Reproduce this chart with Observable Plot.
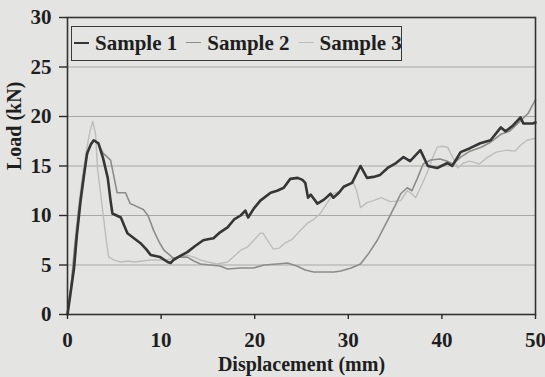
<!DOCTYPE html>
<html>
<head>
<meta charset="utf-8">
<script src="https://cdn.jsdelivr.net/npm/d3@7"></script>
<script src="https://cdn.jsdelivr.net/npm/@observablehq/plot@0.6"></script>
<style>
  html, body { margin: 0; padding: 0; background: #e4e4e2; }
  #wrap { position: relative; width: 545px; height: 377px; background: #e4e4e2; }
  #legend {
    position: absolute; left: 71px; top: 26px; width: 331px; height: 35px;
    box-sizing: border-box; border: 1.5px solid #3a3a3a;
    display: flex; align-items: center; padding-left: 2px;
    font-family: "Liberation Serif", "Times New Roman", serif; font-weight: bold;
    font-size: 21px; color: #1e1e1e; white-space: nowrap;
  }
  #legend .item { display: flex; align-items: center; margin-right: 9px; }
  #legend .mk { display: inline-block; width: 15px; margin-right: 6px; margin-top: -2px; }
</style>
</head>
<body>
<div id="wrap"><div id="legend"></div></div>
<script>
// ---- data ----
const seriesNames = ["Sample 1", "Sample 2", "Sample 3"];
const seriesColors = ["#363636", "#8c8c8c", "#bdbdbd"];
const seriesWidths = [2.6, 1.6, 1.4];

const sample1X = [0,0.3,0.7,1.0,1.4,1.8,2.1,2.5,2.8,3.3,3.8,4.3,4.6,4.8,5.7,6.4,7.1,7.8,8.4,8.9,9.9,10.7,11.0,11.3,12.0,12.8,13.6,14.5,15.0,15.6,16.3,17.1,17.8,18.5,19.0,19.3,19.9,20.6,21.7,22.4,23.1,23.8,24.6,25.1,25.4,25.7,26.0,26.7,27.4,28.1,28.4,29.0,29.5,30.4,31.3,32.0,32.7,33.4,34.2,35.1,35.9,36.6,37.7,38.5,39.5,40.6,41.1,42.0,43.0,44.1,45.2,46.3,46.8,47.6,48.4,48.7,49.7,50];
const sample1Y = [0,2.0,4.7,8.0,11.5,14.3,16.3,17.2,17.6,17.3,15.8,13.8,11.5,10.2,9.8,8.2,7.7,7.2,6.6,6.0,5.8,5.3,5.2,5.5,5.9,6.3,6.9,7.5,7.6,7.7,8.3,8.8,9.6,10.0,10.5,9.8,10.7,11.5,12.3,12.5,12.8,13.7,13.8,13.6,13.3,11.8,12.1,11.2,11.6,12.2,11.8,12.3,12.9,13.3,15.0,13.8,13.9,14.1,14.8,15.3,15.9,15.5,16.6,15.0,14.8,15.3,15.0,16.4,16.8,17.3,17.6,18.9,18.5,19.1,19.9,19.3,19.3,19.4];

const sample2X = [0,0.4,0.8,1.2,1.6,2.0,2.4,2.8,3.3,3.8,4.6,4.9,5.3,6.2,6.7,7.2,8.1,8.6,9.2,9.8,10.3,11.3,12.0,12.8,13.5,14.2,15.2,16.3,17.1,18.5,19.9,21.0,22.4,23.5,24.5,25.4,26.3,27.5,28.5,29.2,30.3,31.3,32.2,33.1,34.2,35.0,35.6,36.3,36.8,37.4,38.0,38.8,39.8,40.5,41.2,42.0,43.0,44.2,45.2,46.3,47.2,48.0,49.2,49.6,50];
const sample2Y = [0,3.0,7.0,10.5,13.5,15.8,17.0,17.6,17.2,16.3,15.6,14.2,12.3,12.3,11.2,11.0,10.6,10.0,8.5,7.3,6.5,5.7,5.8,5.8,5.4,5.1,5.0,4.9,4.6,4.7,4.7,5.0,5.1,5.2,4.9,4.5,4.3,4.3,4.3,4.4,4.7,5.1,6.2,7.5,9.5,11.0,12.2,12.8,12.5,13.8,15.2,15.6,15.7,15.5,15.2,15.9,16.5,16.9,17.4,18.2,18.5,19.2,20.3,21.0,21.7];

const sample3X = [0,0.4,0.8,1.2,1.6,2.0,2.4,2.7,3.0,3.2,3.5,3.8,4.1,4.4,5.0,5.7,6.5,7.1,8.0,8.8,9.6,10.5,11.3,12.2,12.8,13.5,14.2,15.0,16.0,17.1,17.7,18.5,19.2,19.9,20.6,20.9,21.5,22.0,22.6,23.2,24.0,24.8,25.6,26.3,27.0,27.7,28.4,29.2,29.8,30.5,30.9,31.3,32.0,32.7,33.5,34.5,35.6,36.3,36.8,37.2,37.8,38.5,39.0,39.5,40.0,40.6,41.2,41.7,42.3,43.0,44.0,44.9,45.8,47.0,47.8,48.4,49.1,50];
const sample3Y = [0,3.0,7.5,11.0,14.0,16.5,18.5,19.5,18.2,14.8,12.5,10.2,7.8,5.8,5.5,5.3,5.4,5.3,5.4,5.5,5.5,5.5,5.7,5.9,6.0,5.8,5.5,5.3,5.1,5.3,5.8,6.5,6.8,7.5,8.2,8.2,7.3,6.6,6.7,7.2,7.6,8.4,9.2,9.6,10.2,11.2,12.2,12.5,13.0,13.4,12.5,10.8,11.3,11.5,11.8,11.4,11.5,12.5,12.2,11.8,13.0,14.5,15.8,16.9,17.0,16.9,15.8,14.8,15.3,15.5,15.2,15.9,16.4,16.6,16.5,17.1,17.6,17.8];

const xTicks = [0, 10, 20, 30, 40, 50];
const yTicks = [0, 5, 10, 15, 20, 25, 30];
const xLabel = "Displacement (mm)";
const yLabel = "Load (kN)";

// ---- build table ----
const xs = [sample1X, sample2X, sample3X];
const ys = [sample1Y, sample2Y, sample3Y];
const rows = [];
seriesNames.forEach((name, i) => {
  xs[i].forEach((x, j) => rows.push({series: name, x, y: ys[i][j]}));
});

const font = "'Liberation Serif', 'Times New Roman', serif";
const txt = "#1e1e1e";

const chart = Plot.plot({
  width: 545,
  height: 377,
  marginLeft: 67,
  marginRight: 10,
  marginTop: 17,
  marginBottom: 63,
  style: {background: "#e4e4e2", color: "#2a2a2a", fontFamily: font},
  x: {domain: [0, 50]},
  y: {domain: [0, 30]},
  marks: [
    Plot.gridY(yTicks.filter(t => t > 0 && t < 30), {stroke: "#a8a8a8", strokeOpacity: 1, strokeWidth: 1.2}),
    ...seriesNames.slice().reverse().map((name) => {
      const i = seriesNames.indexOf(name);
      return Plot.line(rows.filter(r => r.series === name), {
        x: "x", y: "y", stroke: seriesColors[i], strokeWidth: seriesWidths[i], strokeLinejoin: "round"
      });
    }),
    Plot.frame({stroke: "#333", strokeWidth: 1.6}),
    Plot.axisY(yTicks, {tickSize: 8, tickPadding: 8, fontSize: 21, fontWeight: "bold", fill: txt, label: null, strokeWidth: 1.4}),
    Plot.axisX(xTicks, {tickSize: 5, tickPadding: 13, fontSize: 21, fontWeight: "bold", fill: txt, label: null, strokeWidth: 1.4}),
    Plot.text([xLabel], {frameAnchor: "bottom", text: d => d, dy: 50, fontSize: 20, fontWeight: "bold", fill: txt, lineAnchor: "middle"}),
    Plot.text([yLabel], {frameAnchor: "left", text: d => d, dx: -53, dy: 4, rotate: -90, fontSize: 20, fontWeight: "bold", fill: txt, lineAnchor: "middle"})
  ]
});
document.getElementById("wrap").prepend(chart);

// ---- legend overlay ----
const legend = document.getElementById("legend");
seriesNames.forEach((name, i) => {
  const item = document.createElement("span");
  item.className = "item";
  const mk = document.createElement("span");
  mk.className = "mk";
  mk.style.borderTop = `${i === 0 ? 2.2 : 1.8}px solid ${seriesColors[i]}`;
  const t = document.createElement("span");
  t.textContent = name;
  item.append(mk, t);
  legend.append(item);
});
</script>
</body>
</html>
